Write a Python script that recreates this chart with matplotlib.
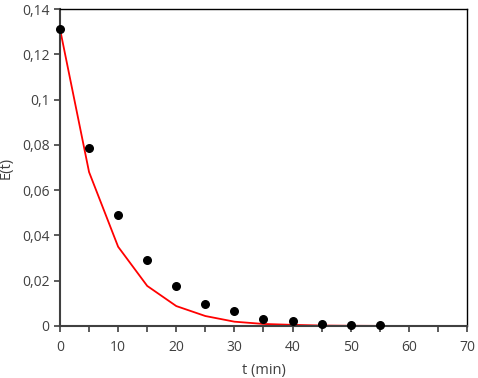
import matplotlib.pyplot as plt
from matplotlib.ticker import MultipleLocator, FuncFormatter

# measured points
t_exp = [0, 5, 10, 15, 20, 25, 30, 35, 40, 45, 50, 55]
e_exp = [0.1312, 0.0786, 0.049, 0.0292, 0.0177, 0.0097, 0.0066, 0.0029, 0.0022, 0.0009, 0.0004, 0.0004]

# model curve
t_mod = [0, 5, 10, 15, 20, 25, 30, 35, 40, 45, 50, 55, 60, 65]
e_mod = [0.1312, 0.068, 0.035, 0.0177, 0.0088, 0.0044, 0.0019, 0.0009, 0.0005, 0.0002, 0.0001, 0.00005, 0.0, 0.0]

plt.rcParams['font.family'] = ['Open Sans', 'DejaVu Sans']
grey = '#404040'

fig = plt.figure(figsize=(4.78, 3.78), dpi=100)
ax = fig.add_axes([0.1255, 0.1376, 0.977 - 0.1255, 0.976 - 0.1376])

ax.plot(t_mod, e_mod, color='#ff0000', lw=1.3, zorder=2)
ax.scatter(t_exp, e_exp, s=30, color='black', zorder=3, clip_on=False)

ax.set_xlim(0, 70)
ax.set_ylim(0, 0.14)
ax.xaxis.set_major_locator(MultipleLocator(10))
ax.xaxis.set_minor_locator(MultipleLocator(5))
ax.yaxis.set_major_locator(MultipleLocator(0.02))

def comma(v, pos):
    s = ('%.2f' % v).rstrip('0').rstrip('.')
    return s.replace('.', ',')

ax.yaxis.set_major_formatter(FuncFormatter(comma))

for side in ['left', 'bottom']:
    ax.spines[side].set_color(grey)
    ax.spines[side].set_linewidth(1.5)
for side in ['top', 'right']:
    ax.spines[side].set_color('black')
    ax.spines[side].set_linewidth(1.0)

ax.tick_params(which='both', direction='out', color=grey, width=1.2, labelcolor=grey, labelsize=10)
ax.tick_params(which='major', length=4)
ax.tick_params(which='minor', length=4)
ax.tick_params(axis='x', pad=6)

ax.set_xlabel('t (min)', color=grey, fontsize=10.5, labelpad=6)
ax.set_ylabel('E(t)', color=grey, fontsize=10.5, labelpad=6)

fig.savefig('out.png', dpi=100)
